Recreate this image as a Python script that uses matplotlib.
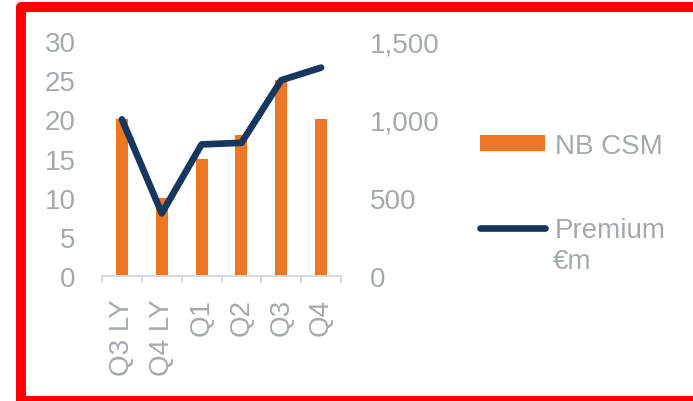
import numpy as np
import matplotlib
matplotlib.use("Agg")
import matplotlib.pyplot as plt
from matplotlib.patches import Rectangle
from matplotlib.ticker import FuncFormatter

plt.rcParams['font.family'] = ['Liberation Sans', 'DejaVu Sans']

# data
quarters = ["Q3 LY", "Q4 LY", "Q1", "Q2", "Q3", "Q4"]
nb_csm = [20, 10, 15, 18, 25, 20]
premium = [1000, 400, 840, 850, 1250, 1330]

orange = "#EE7623"
navy = "#17375E"
grey = "#A3AAAE"
fs = 20

fig = plt.figure(figsize=(6.93, 4.02), dpi=100)
ax = fig.add_axes([102 / 693, 125 / 402, 239 / 693, 235 / 402])
x = np.arange(len(quarters))

bars = ax.bar(x, nb_csm, width=0.3, color=orange, zorder=2, label="NB CSM")
ax.set_xlim(-0.5, 5.5)
ax.set_ylim(0, 30)
ax.set_yticks(range(0, 31, 5))
ax.set_xticks(x)
ax.set_xticklabels(quarters, rotation=90)
ax.set_xticks(np.arange(-0.5, 6, 1), minor=True)
ax.tick_params(axis='y', length=0, pad=19, labelsize=fs, labelcolor=grey)
ax.tick_params(axis='x', which='major', length=0, pad=16, labelsize=fs, labelcolor=grey)
ax.tick_params(axis='x', which='minor', length=5, width=1.5, color="#D9D9D9")
for s in ["top", "left", "right"]:
    ax.spines[s].set_visible(False)
ax.spines["bottom"].set_color("#D9D9D9")
ax.spines["bottom"].set_linewidth(1.5)

ax2 = ax.twinx()
line, = ax2.plot(x, premium, color=navy, lw=4.8, solid_capstyle='round',
                 solid_joinstyle='round', label="Premium")
ax2.set_ylim(0, 1500)
ax2.set_yticks([0, 500, 1000, 1500])
ax2.yaxis.set_major_formatter(FuncFormatter(lambda v, p: "{:,.0f}".format(v)))
ax2.tick_params(axis='y', length=0, pad=21, labelsize=fs, labelcolor=grey)
for s in ax2.spines.values():
    s.set_visible(False)

leg = fig.legend([bars, line], ["NB CSM", "Premium"], loc="center left",
                 bbox_to_anchor=(480 / 693, (402 - 189) / 402), frameon=False,
                 fontsize=fs, labelcolor=grey, handlelength=2.34, handleheight=0.5,
                 handletextpad=0.36, labelspacing=2.1, borderpad=0, borderaxespad=0)
fig.text(553 / 693, (402 - 262) / 402, "€m", fontsize=fs, color=grey,
         ha="left", va="center")

# red frame around the chart
fig.patches.append(Rectangle((21 / 693, 0), 1.0, 394 / 402, transform=fig.transFigure,
                             fill=False, ec="red", lw=7.2, joinstyle="round"))

fig.savefig("out.png", dpi=100)
